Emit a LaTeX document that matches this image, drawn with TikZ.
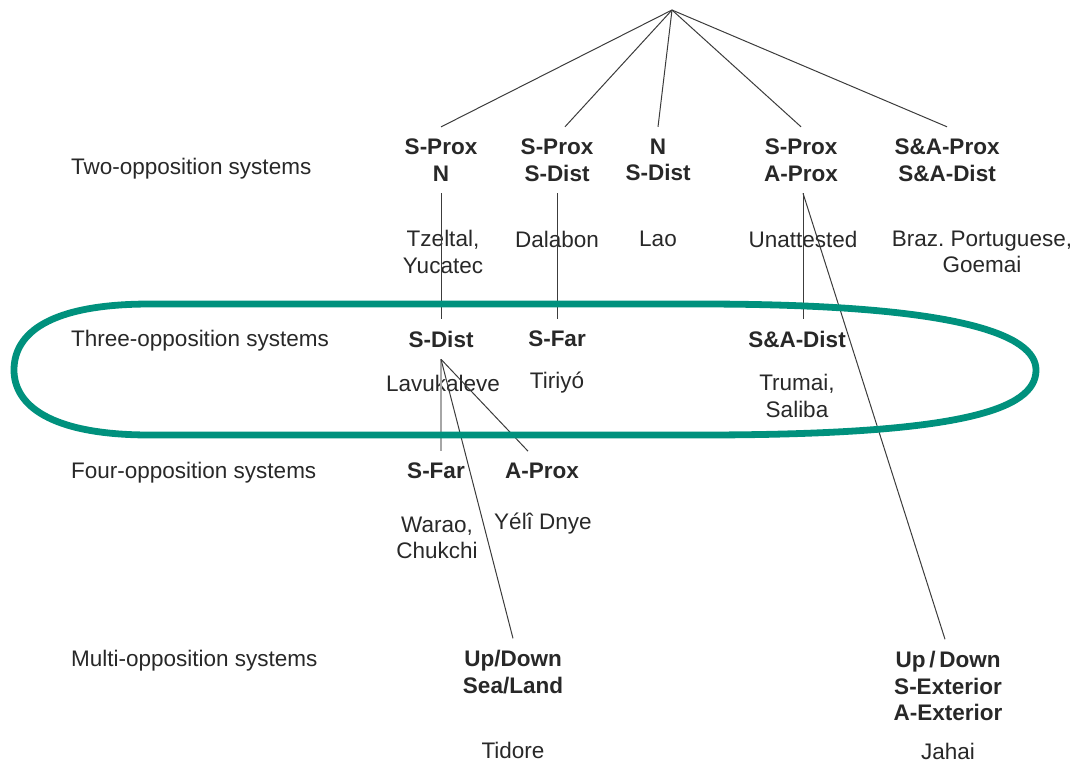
\documentclass[tikz,border=0pt]{standalone}
\usepackage{fontspec}
\setmainfont{Liberation Sans}
\frenchspacing
\usetikzlibrary{calc}
\definecolor{tealring}{RGB}{0,145,125}
\definecolor{txt}{RGB}{40,40,40}
\definecolor{ln}{RGB}{60,60,60}
\begin{document}
\begin{tikzpicture}[x=1pt,y=-1pt,
  every node/.style={font=\fontsize{22.5}{26.5}\selectfont, text=txt, inner sep=0pt, align=center},
  lab/.style={},
  blab/.style={font=\fontsize{22.5}{26.5}\selectfont\bfseries, outer sep=12pt},
  rowlab/.style={anchor=west},
  conn/.style={draw=ln, line width=1pt},
  lightconn/.style={draw=black!35, line width=1.4pt},
  ring/.style={draw=tealring, line width=6.8pt}]
\useasboundingbox (0,0) rectangle (1078,764);
% row labels
\node[rowlab] (r2) at (71,169) {Two-opposition systems};
\node[rowlab] (r3) at (71,341) {Three-opposition systems};
\node[rowlab] (r4) at (71,473) {Four-opposition systems};
\node[rowlab] (rm) at (71,661) {Multi-opposition systems};
% root
\coordinate (root) at (672,10);
% two-opposition
\node[blab] (t1) at (441,160) {S-Prox\\N};
\node[blab] (t2) at (557,160) {S-Prox\\S-Dist};
\node[blab] (t3) at (658,160) {N\\S-Dist};
\node[blab] (t4) at (801,160) {S-Prox\\A-Prox};
\node[blab] (t5) at (947,160) {S\&A-Prox\\S\&A-Dist};
\node[lab] (l1) at (443,252) {Tzeltal,\\Yucatec};
\node[lab] (l2) at (557,239) {Dalabon};
\node[lab] (l3) at (658,239) {Lao};
\node[lab] (l4) at (803,239) {Unattested};
\node[lab] (l5) at (982,252) {Braz. Portuguese,\\Goemai};
% three-opposition
\node[blab] (sdist) at (441,339) {S-Dist};
\node[blab] (sfar2) at (557,339) {S-Far};
\node[blab] (sadist) at (797,339) {S\&A-Dist};
\node[lab] (lav) at (443,383) {Lavukaleve};
\node[lab] (tir) at (557,383) {Tiriyó};
\node[lab] (trum) at (797,396) {Trumai,\\Saliba};
% four-opposition
\node[blab] (sfar3) at (436,471) {S-Far};
\node[blab] (aprox) at (542,471) {A-Prox};
\node[lab] (war) at (437,538) {Warao,\\Chukchi};
\node[lab] (yeli) at (543,524) {Yélî Dnye};
% multi-opposition
\node[blab] (upsea) at (513,672) {Up/Down\\Sea/Land};
\node[lab] (tid) at (513,750) {Tidore};
\node[blab] (upext) at (948,686) {Up\,/\,Down\\S-Exterior\\A-Exterior};
\node[lab] (jah) at (948,751) {Jahai};
% connectors
\draw[conn] (root) -- (t1.north);
\draw[conn] (root) -- ($(t2.north)+(8,0)$);
\draw[conn] (root) -- (t3.north);
\draw[conn] (root) -- (t4.north);
\draw[conn] (root) -- (t5.north);
\draw[conn] (t1.south) -- (sdist.north);
\draw[conn] (t2.south) -- (sfar2.north);
\draw[conn] ($(t4.south)+(2,0)$) -- ($(sadist.north)+(6,0)$);
\draw[conn] ($(t4.south)+(2,0)$) -- ($(upext.north)+(-3,0)$);
\draw[lightconn] (sdist.south) -- ($(sfar3.north)+(5,0)$);
\draw[conn] (sdist.south) -- ($(aprox.north)+(-14,0)$);
\draw[conn] (sdist.south) -- (upsea.north);
% ring
\draw[ring] (150,304) -- (700,304)
  .. controls (960,304) and (1036,335) .. (1036,370)
  .. controls (1036,410) and (960,435) .. (700,435)
  -- (150,435)
  .. controls (50,435) and (14,405) .. (14,370)
  .. controls (14,333) and (50,304) .. (150,304) -- cycle;
\end{tikzpicture}
\end{document}
